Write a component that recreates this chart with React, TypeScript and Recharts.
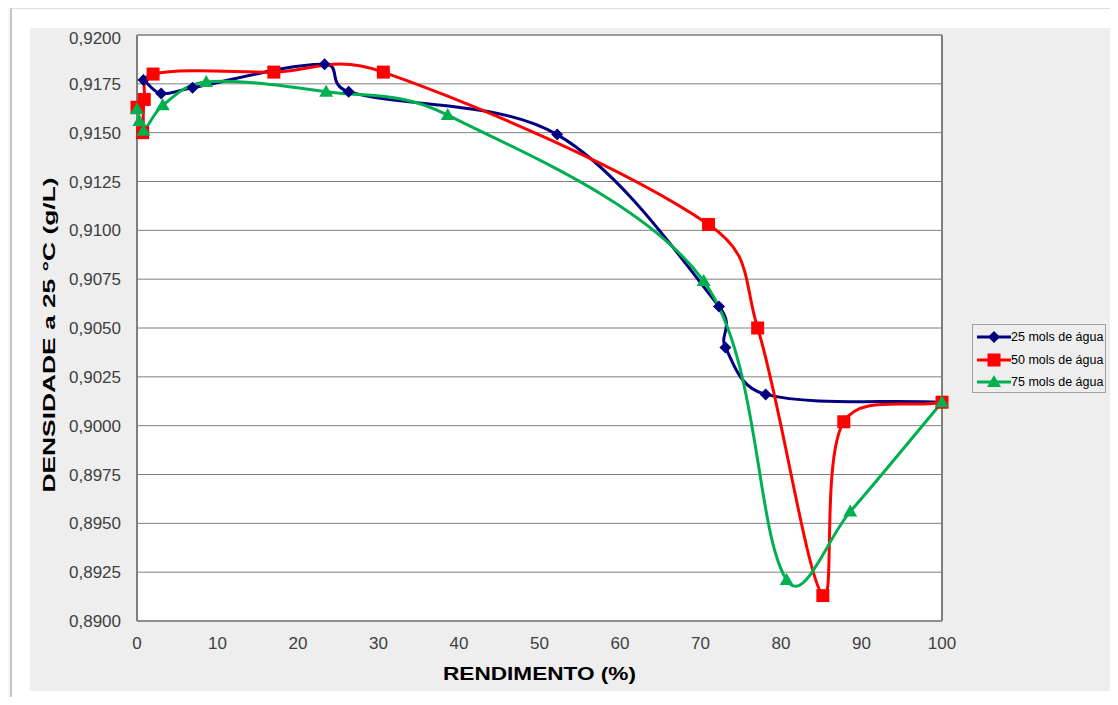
import { CartesianGrid, Label, Legend, Line, LineChart, ReferenceLine, XAxis, YAxis } from "recharts";

const rend25 = [0.8, 3.0, 6.9, 23.3, 26.3, 52.2, 72.3, 73.1, 78.1, 100];
const dens25 = [0.9177, 0.917, 0.9173, 0.9185, 0.9171, 0.9149, 0.9061, 0.904, 0.9016, 0.9012];

const rend50 = [0, 0.7, 0.9, 2.0, 17.0, 30.6, 71.0, 77.1, 85.2, 87.8, 100];
const dens50 = [0.9163, 0.915, 0.9167, 0.918, 0.9181, 0.9181, 0.9103, 0.905, 0.8913, 0.9002, 0.9012];

const rend75 = [0, 0.3, 0.8, 3.2, 8.6, 23.5, 38.6, 70.4, 80.7, 88.6, 100];
const dens75 = [0.9162, 0.9156, 0.9151, 0.9164, 0.9176, 0.9171, 0.9159, 0.9074, 0.8921, 0.8956, 0.9012];

const xTicks = [0, 10, 20, 30, 40, 50, 60, 70, 80, 90, 100];
const yTicks = [0.89, 0.8925, 0.895, 0.8975, 0.9, 0.9025, 0.905, 0.9075, 0.91, 0.9125, 0.915, 0.9175, 0.92];

const toPoints = (xs: number[], ys: number[]) => xs.map((x, i) => ({ x, y: ys[i] }));

const series25 = toPoints(rend25, dens25);
const series50 = toPoints(rend50, dens50);
const series75 = toPoints(rend75, dens75);

const BLUE = "#000080";
const RED = "#ff0000";
const GREEN = "#00b050";
const FONT = "'Liberation Sans', Arial, sans-serif";

const dist = (a: number[], b: number[]) => Math.sqrt(Math.hypot(b[0] - a[0], b[1] - a[1]));

// excel style smoothed line: catmull-rom, arms weighted by sqrt of chord length
const excelSmooth = (context: any) => {
  let pts: number[][] = [];
  return {
    areaStart() {},
    areaEnd() {},
    lineStart() {
      pts = [];
    },
    point(x: number, y: number) {
      pts.push([x, y]);
    },
    lineEnd() {
      const n = pts.length;
      if (!n) return;
      context.moveTo(pts[0][0], pts[0][1]);
      for (let i = 0; i < n - 1; i++) {
        const p0 = pts[i - 1] || pts[i];
        const p1 = pts[i];
        const p2 = pts[i + 1];
        const p3 = pts[i + 2] || p2;
        const d01 = dist(p0, p1);
        const d12 = dist(p1, p2);
        const d23 = dist(p2, p3);
        const k1 = d01 + d12 > 0 ? d12 / (3 * (d01 + d12)) : 0;
        const k2 = d12 + d23 > 0 ? d12 / (3 * (d12 + d23)) : 0;
        context.bezierCurveTo(
          p1[0] + (p2[0] - p0[0]) * k1,
          p1[1] + (p2[1] - p0[1]) * k1,
          p2[0] - (p3[0] - p1[0]) * k2,
          p2[1] - (p3[1] - p1[1]) * k2,
          p2[0],
          p2[1]
        );
      }
    }
  };
};

const diamond = (cx: number, cy: number, key?: string) => (
  <polygon key={key} points={`${cx},${cy - 6} ${cx + 6},${cy} ${cx},${cy + 6} ${cx - 6},${cy}`} fill={BLUE} />
);
const square = (cx: number, cy: number, key?: string) => (
  <rect key={key} x={cx - 6.5} y={cy - 6.5} width={13} height={13} fill={RED} />
);
const triangle = (cx: number, cy: number, key?: string) => (
  <polygon key={key} points={`${cx},${cy - 7} ${cx + 7},${cy + 5} ${cx - 7},${cy + 5}`} fill={GREEN} />
);

const markers: Record<string, (cx: number, cy: number, key?: string) => any> = {
  "25 mols de água": diamond,
  "50 mols de água": square,
  "75 mols de água": triangle
};

const fmt = (v: number) => v.toFixed(4).replace(".", ",");

const renderLegend = (props: any) => (
  <div
    style={{
      border: "1px solid #a0a0a0",
      width: 134,
      height: 69,
      paddingTop: 1,
      boxSizing: "border-box",
      fontFamily: FONT,
      fontSize: 12.5,
      color: "#000"
    }}
  >
    {(props.payload || []).map((entry: any) => (
      <div key={entry.value} style={{ display: "flex", alignItems: "center", height: 22.5 }}>
        <svg width={38} height={14} style={{ marginLeft: 4 }}>
          <line x1={0} x2={34} y1={7} y2={7} stroke={entry.color} strokeWidth={3} />
          {markers[entry.value](17, 7)}
        </svg>
        <span style={{ marginLeft: -4 }}>{entry.value}</span>
      </div>
    ))}
  </div>
);

export default function App() {
  return (
    <div style={{ position: "relative", width: 1118, height: 705, margin: -8, background: "#fff", overflow: "hidden", fontFamily: FONT }}>
      <div
        style={{
          position: "absolute",
          left: 10,
          top: 8,
          width: 1120,
          height: 710,
          borderLeft: "2px solid #c4c4c4",
          borderTop: "1px solid #dedede",
          boxShadow: "-1px -1px 3px rgba(0,0,0,0.08)"
        }}
      />
      <div style={{ position: "absolute", left: 30, top: 28, width: 1082, height: 663, background: "#eeeeee" }}>
        <LineChart width={1082} height={663} margin={{ top: 7, right: 170, bottom: 0, left: 0 }}>
          <CartesianGrid vertical={false} stroke="#7f7f7f" fill="#ffffff" fillOpacity={1} />
          <XAxis
            type="number"
            dataKey="x"
            domain={[0, 100]}
            ticks={xTicks}
            height={70}
            tickLine={false}
            tickSize={0}
            tickMargin={16}
            axisLine={{ stroke: "#7f7f7f", strokeWidth: 1.5 }}
            tick={{ fontSize: 17, fill: "#404040", fontFamily: FONT }}
          >
            <Label
              content={(p: any) => {
                const vb = p.viewBox;
                return (
                  <text
                    x={vb.x + vb.width / 2}
                    y={vb.y + 59}
                    textAnchor="middle"
                    fontFamily={FONT}
                    fontWeight="bold"
                    fontSize={19}
                    textLength={193}
                    lengthAdjust="spacingAndGlyphs"
                    fill="#000"
                  >
                    RENDIMENTO (%)
                  </text>
                );
              }}
            />
          </XAxis>
          <YAxis
            type="number"
            domain={[0.89, 0.92]}
            ticks={yTicks}
            width={107}
            tickLine={false}
            tickSize={0}
            tickMargin={16}
            tickFormatter={fmt}
            axisLine={{ stroke: "#7f7f7f", strokeWidth: 2 }}
            tick={{ fontSize: 17, fill: "#404040", fontFamily: FONT }}
          >
            <Label
              content={(p: any) => {
                const vb = p.viewBox;
                const x = vb.x + 25;
                const y = vb.y + vb.height / 2 + 7;
                return (
                  <text
                    x={x}
                    y={y}
                    transform={`rotate(-90, ${x}, ${y})`}
                    textAnchor="middle"
                    fontFamily={FONT}
                    fontWeight="bold"
                    fontSize={16}
                    textLength={315}
                    lengthAdjust="spacingAndGlyphs"
                    fill="#000"
                  >
                    DENSIDADE  a 25 °C (g/L)
                  </text>
                );
              }}
            />
          </YAxis>
          <ReferenceLine x={100} stroke="#7f7f7f" strokeWidth={2} />
          <ReferenceLine y={0.92} stroke="#7f7f7f" strokeWidth={1} />
          <Legend
            layout="vertical"
            align="center"
            verticalAlign="middle"
            content={renderLegend}
            wrapperStyle={{ left: 942, top: 296, width: 136 }}
          />
          <Line
            data={series25}
            dataKey="y"
            name="25 mols de água"
            type={excelSmooth as any}
            stroke={BLUE}
            strokeWidth={3}
            dot={(p: any) => diamond(p.cx, p.cy, `d25-${p.index}`)}
            activeDot={false}
            isAnimationActive={false}
          />
          <Line
            data={series50}
            dataKey="y"
            name="50 mols de água"
            type={excelSmooth as any}
            stroke={RED}
            strokeWidth={3}
            dot={(p: any) => square(p.cx, p.cy, `d50-${p.index}`)}
            activeDot={false}
            isAnimationActive={false}
          />
          <Line
            data={series75}
            dataKey="y"
            name="75 mols de água"
            type={excelSmooth as any}
            stroke={GREEN}
            strokeWidth={3}
            dot={(p: any) => triangle(p.cx, p.cy, `d75-${p.index}`)}
            activeDot={false}
            isAnimationActive={false}
          />
        </LineChart>
      </div>
    </div>
  );
}
